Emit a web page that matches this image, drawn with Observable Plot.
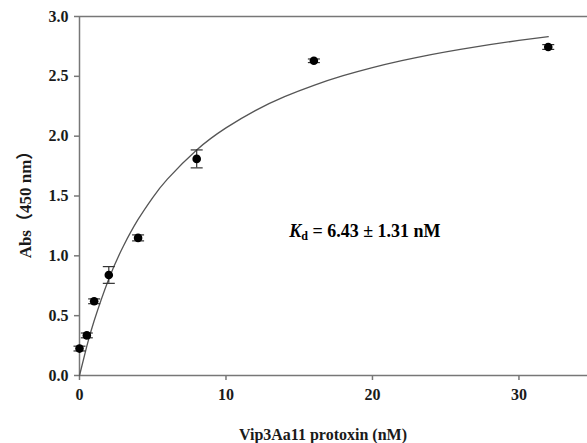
<!DOCTYPE html>
<html>
<head>
<meta charset="utf-8">
<script src="https://cdn.jsdelivr.net/npm/d3@7"></script>
<script src="https://cdn.jsdelivr.net/npm/@observablehq/plot@0.6"></script>
<style>
  html, body { margin: 0; padding: 0; background: #fff; }
  #chart svg { display: block; }
</style>
</head>
<body>
<div id="chart"></div>
<script>
// Measured points: concentration (nM), absorbance, error (SE)
const conc = [0, 0.5, 1, 2, 4, 8, 16, 32];
const absVals = [0.225, 0.335, 0.62, 0.84, 1.15, 1.81, 2.63, 2.745];
const absErr = [0.02, 0.02, 0.02, 0.07, 0.025, 0.075, 0.015, 0.02];

// Fitted saturation curve
const fitX = [0, 0.5, 1, 2, 3, 4, 5, 6, 8, 10, 12, 14, 16, 18, 20, 22, 24, 26, 28, 30, 32];
const fitY = [0, 0.245, 0.458, 0.807, 1.082, 1.304, 1.487, 1.641, 1.885, 2.069, 2.214, 2.330, 2.425, 2.505, 2.573, 2.631, 2.682, 2.726, 2.765, 2.800, 2.831];

const xTicks = [0, 10, 20, 30];
const yTicks = [0, 0.5, 1.0, 1.5, 2.0, 2.5, 3.0];
const xLabel = "Vip3Aa11 protoxin (nM)";
const yLabel = "Abs（450 nm）";
const kdText = ["K", "d", " = 6.43 ± 1.31 nM"];
const kdPos = {x: 14.35, y: 1.15};

const points = conc.map((c, i) => ({x: c, y: absVals[i], lo: absVals[i] - absErr[i], hi: absVals[i] + absErr[i]}));
const fit = fitX.map((x, i) => ({x, y: fitY[i]}));

const capSymbol = {
  draw(ctx, size) {
    const w = Math.sqrt(size / Math.PI);
    ctx.moveTo(-w, 0);
    ctx.lineTo(w, 0);
  }
};

const W = 587, H = 443;
const mLeft = 79, mTop = 16, mBottom = 68;
const font = "'Liberation Serif', 'Times New Roman', serif";
const axisColor = "#777";

const plot = Plot.plot({
  width: W,
  height: H,
  marginLeft: mLeft,
  marginRight: 0,
  marginTop: mTop,
  marginBottom: mBottom,
  style: {fontFamily: font, fontSize: "16px", fontWeight: "bold", color: "#1a1a1a", background: "#fff"},
  x: {domain: [0, 34.68]},
  y: {domain: [0, 3]},
  marks: [
    Plot.ruleY([3], {stroke: axisColor, strokeWidth: 1.5}),
    Plot.axisX({ticks: xTicks, tickFormat: d3.format("d"), tickSize: 5, tickPadding: 8, stroke: axisColor, strokeWidth: 1.5, label: null, fill: "#1a1a1a"}),
    Plot.axisY({ticks: yTicks, tickFormat: d3.format(".1f"), tickSize: 5, tickPadding: 6, stroke: axisColor, strokeWidth: 1.5, label: null, fill: "#1a1a1a"}),
    Plot.ruleY([0], {stroke: axisColor, strokeWidth: 1.5}),
    Plot.ruleX([0], {stroke: axisColor, strokeWidth: 1.5}),
    Plot.line(fit, {x: "x", y: "y", curve: "natural", stroke: "#555", strokeWidth: 1.3}),
    Plot.ruleX(points, {x: "x", y1: "lo", y2: "hi", stroke: "#333", strokeWidth: 1.2}),
    Plot.dot(points, {x: "x", y: "lo", symbol: capSymbol, r: 6, stroke: "#333", strokeWidth: 1.2, fill: "none"}),
    Plot.dot(points, {x: "x", y: "hi", symbol: capSymbol, r: 6, stroke: "#333", strokeWidth: 1.2, fill: "none"}),
    Plot.dot(points, {x: "x", y: "y", r: 4.3, fill: "#000", stroke: "none"})
  ]
});

const svg = d3.select(plot);
const sx = plot.scale("x"), sy = plot.scale("y");
const plotBottom = H - mBottom;

// Y axis title (rotated)
svg.append("text")
  .attr("transform", `translate(25,${(mTop + plotBottom) / 2 + 5}) rotate(-90)`)
  .attr("text-anchor", "middle")
  .attr("dominant-baseline", "central")
  .attr("font-family", font + ", 'Noto Sans CJK SC'")
  .attr("font-size", 17)
  .attr("font-weight", "bold")
  .attr("fill", "#1a1a1a")
  .text(yLabel);

// X axis title
svg.append("text")
  .attr("x", (mLeft + W) / 2 - 10)
  .attr("y", 434)
  .attr("text-anchor", "middle")
  .attr("dominant-baseline", "central")
  .attr("font-family", font)
  .attr("font-size", 16)
  .attr("font-weight", "bold")
  .attr("fill", "#1a1a1a")
  .text(xLabel);

// Kd annotation
const kd = svg.append("text")
  .attr("x", sx.apply(kdPos.x))
  .attr("y", sy.apply(kdPos.y))
  .attr("text-anchor", "start")
  .attr("font-family", font)
  .attr("font-size", 18)
  .attr("font-weight", "bold")
  .attr("fill", "#000");
kd.append("tspan").attr("font-style", "italic").text(kdText[0]);
kd.append("tspan").attr("font-size", 12).attr("dy", 3).text(kdText[1]);
kd.append("tspan").attr("dy", -3).text(kdText[2]);

document.getElementById("chart").appendChild(plot);
</script>
</body>
</html>
